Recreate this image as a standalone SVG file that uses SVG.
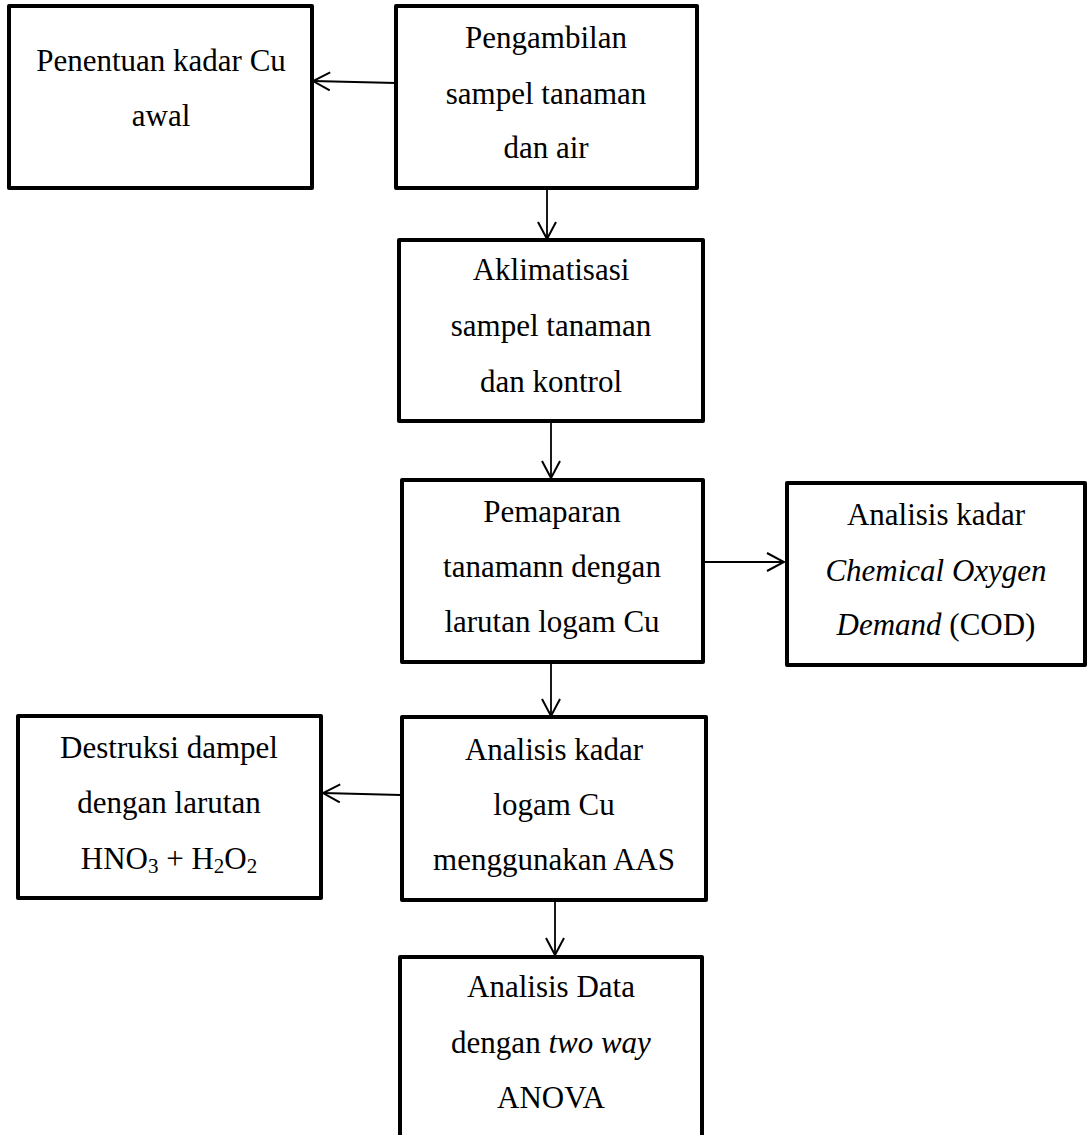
<svg xmlns="http://www.w3.org/2000/svg" width="1088" height="1135" viewBox="0 0 1088 1135">
<defs>
<style>
.box{fill:#fff;stroke:#000;stroke-width:4;stroke-linejoin:round}
.t{font-family:"Liberation Serif","Times New Roman",serif;font-size:31px;fill:#000;text-anchor:middle}
.i{font-style:italic}
.sub{font-size:21px}
.c{fill:none;stroke:#000;stroke-width:1.8}
</style>
<marker id="ah" markerWidth="20" markerHeight="22" refX="18" refY="10" orient="auto" markerUnits="userSpaceOnUse">
<path d="M1,1 L18,10 L1,19" fill="none" stroke="#000" stroke-width="2"/>
</marker>
</defs>
<rect width="1088" height="1135" fill="#fff"/>
<g id="connectors">
<line class="c" x1="396" y1="83" x2="313" y2="81" marker-end="url(#ah)"/>
<line class="c" x1="547" y1="188" x2="547" y2="239" marker-end="url(#ah)"/>
<line class="c" x1="551" y1="421" x2="551" y2="478" marker-end="url(#ah)"/>
<line class="c" x1="701" y1="562" x2="784" y2="562" marker-end="url(#ah)"/>
<line class="c" x1="551" y1="662" x2="551" y2="716" marker-end="url(#ah)"/>
<line class="c" x1="401" y1="795" x2="323" y2="793" marker-end="url(#ah)"/>
<line class="c" x1="555" y1="900" x2="555" y2="955" marker-end="url(#ah)"/>
</g>
<g id="node1">
<rect class="box" x="9" y="6" width="303" height="182"/>
<text class="t" x="161" y="71">Penentuan kadar Cu</text>
<text class="t" x="161" y="126">awal</text>
</g>
<g id="node2">
<rect class="box" x="396" y="6" width="301" height="182"/>
<text class="t" x="546" y="48">Pengambilan</text>
<text class="t" x="546" y="104">sampel tanaman</text>
<text class="t" x="546" y="158">dan air</text>
</g>
<g id="node3">
<rect class="box" x="399" y="240" width="304" height="181"/>
<text class="t" x="551" y="280">Aklimatisasi</text>
<text class="t" x="551" y="336">sampel tanaman</text>
<text class="t" x="551" y="392">dan kontrol</text>
</g>
<g id="node4">
<rect class="box" x="402" y="480" width="301" height="182"/>
<text class="t" x="552" y="522">Pemaparan</text>
<text class="t" x="552" y="577">tanamann dengan</text>
<text class="t" x="552" y="632">larutan logam Cu</text>
</g>
<g id="node5">
<rect class="box" x="787" y="483" width="298" height="182"/>
<text class="t" x="936" y="525">Analisis kadar</text>
<text class="t i" x="936" y="581">Chemical Oxygen</text>
<text class="t" x="936" y="635"><tspan class="i">Demand</tspan> (COD)</text>
</g>
<g id="node6">
<rect class="box" x="18" y="716" width="303" height="182"/>
<text class="t" x="169" y="758">Destruksi dampel</text>
<text class="t" x="169" y="813">dengan larutan</text>
<text class="t" x="169" y="869">HNO<tspan class="sub" dy="4">3</tspan><tspan dy="-4"> + H</tspan><tspan class="sub" dy="4">2</tspan><tspan dy="-4">O</tspan><tspan class="sub" dy="4">2</tspan></text>
</g>
<g id="node7">
<rect class="box" x="402" y="717" width="304" height="183"/>
<text class="t" x="554" y="760">Analisis kadar</text>
<text class="t" x="554" y="815">logam Cu</text>
<text class="t" x="554" y="870">menggunakan AAS</text>
</g>
<g id="node8">
<rect class="box" x="400" y="957" width="302" height="190"/>
<text class="t" x="551" y="997">Analisis Data</text>
<text class="t" x="551" y="1053">dengan <tspan class="i">two way</tspan></text>
<text class="t" x="551" y="1108">ANOVA</text>
</g>
</svg>
